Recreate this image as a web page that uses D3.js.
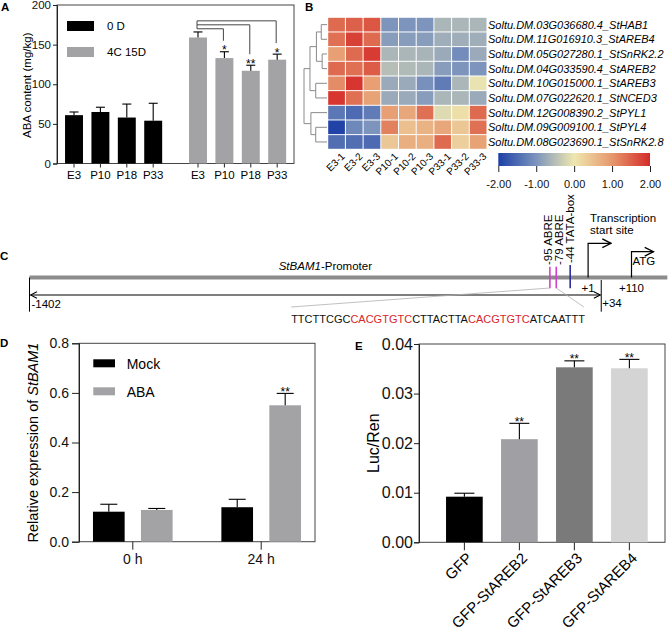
<!DOCTYPE html>
<html><head><meta charset="utf-8">
<script src="https://cdn.jsdelivr.net/npm/d3@7"></script>
<style>
body{margin:0;background:#fff}
svg{font-family:"Liberation Sans",Arial,Helvetica,sans-serif;display:block}
</style>
</head><body>
<svg id="c" width="668" height="634"></svg>
<script>
// ================= DATA =================
// Panel A
const abaGroups = ["0 D", "4C 15D"];
const abaCats = ["E3", "P10", "P18", "P33"];
const aba0D = [61, 65, 58, 54];
const aba0DErr = [4, 6, 17, 22];
const aba4C = [159, 133, 117, 131];
const aba4CErr = [7, 8, 7, 7];
const aba4CSig = ["", "*", "**", "*"];
const abaBracketLevels = [null, 170, 175, 180];
const abaYTicks = [0, 50, 100, 150, 200];
const abaColors = ["#000000", "#a3a3a6"];

// Panel B
const heatGenes = [
  "Soltu.DM.03G036680.4_StHAB1",
  "Soltu.DM.11G016910.3_StAREB4",
  "Soltu.DM.05G027280.1_StSnRK2.2",
  "Soltu.DM.04G033590.4_StAREB2",
  "Soltu.DM.10G015000.1_StAREB3",
  "Soltu.DM.07G022620.1_StNCED3",
  "Soltu.DM.12G008390.2_StPYL1",
  "Soltu.DM.09G009100.1_StPYL4",
  "Soltu.DM.08G023690.1_StSnRK2.8"
];
const heatSamples = ["E3-1","E3-2","E3-3","P10-1","P10-2","P10-3","P33-1","P33-2","P33-3"];
const heatValues = [
  [1.42, 1.50, 1.60, -1.00, -1.00, -1.00, -0.60, -0.60, -0.60],
  [1.36, 1.80, 1.42, -0.90, -0.90, -0.90, -0.70, -0.70, -0.70],
  [0.90, 1.42, 1.85, -0.60, -0.60, -0.62, -0.75, -1.10, -0.75],
  [1.42, 1.36, 1.55, -0.50, -0.55, -0.60, -0.90, -1.00, -1.00],
  [1.10, 1.90, 0.90, -0.75, -0.75, -1.05, -1.30, -0.60, -0.05],
  [1.90, 1.36, 0.85, -0.75, -0.75, -0.90, -0.60, -0.60, -0.75],
  [-1.35, -1.50, -1.30, 0.90, 0.80, 1.36, -0.15, 0.10, 1.42],
  [-1.95, -1.15, -1.00, 1.20, 0.50, 0.65, 0.80, 0.40, 1.36],
  [-1.45, -1.45, -1.50, 0.40, 0.70, 0.70, 1.42, 0.30, 0.85]
];
const heatLegendTicks = [-2, -1, 0, 1, 2];
const heatColorStops = ["#1c3fa6", "#7d95bd", "#efe7b0", "#e6976c", "#d42b28"];
// dendrogram merges (scipy style: leaves 0..8, merge i -> node 9+i), [a, b, height]
const dendroMerges = [
  [0, 1, 0.25], [2, 3, 0.21], [9, 10, 0.46], [4, 5, 0.49],
  [11, 12, 0.74], [7, 8, 0.49], [6, 14, 0.70], [13, 15, 1.0]
];

// Panel C
const promoterStart = -1402, promoterEnd = 200;
const cisElements = [
  {pos: -95, label: "-95 ABRE", color: "#d23fd2"},
  {pos: -79, label: "-79 ABRE", color: "#d23fd2"},
  {pos: -44, label: "-44 TATA-box", color: "#2b2fa0"}
];
const tssPos = 1, fragEnd = 34, atgPos = 110;
const seqParts = [
  {t: "TTCTTCGC", red: false}, {t: "CACGTGTC", red: true},
  {t: "CTTACTTA", red: false}, {t: "CACGTGTC", red: true},
  {t: "ATCAATTT", red: false}
];

// Panel D
const exprTimes = ["0 h", "24 h"];
const exprTreat = ["Mock", "ABA"];
const exprMock = [0.121, 0.139];
const exprMockErr = [0.030, 0.032];
const exprABA = [0.128, 0.550];
const exprABAErr = [0.006, 0.048];
const exprSig = [["", ""], ["", "**"]];
const exprYTicks = [0, 0.2, 0.4, 0.6, 0.8];
const exprColors = ["#000000", "#a3a3a6"];

// Panel E
const lucCats = ["GFP", "GFP-StAREB2", "GFP-StAREB3", "GFP-StAREB4"];
const lucVals = [0.0092, 0.0208, 0.0353, 0.0351];
const lucErr = [0.0007, 0.0032, 0.0013, 0.0018];
const lucSig = ["", "**", "**", "**"];
const lucColors = ["#000000", "#a0a0a4", "#7a7a7a", "#d4d4d4"];
const lucYTicks = [0, 0.01, 0.02, 0.03, 0.04];

// ================= DRAW =================
const svg = d3.select("#c");
const AX = "#222";
const FF = '"Liberation Sans", Arial, Helvetica, sans-serif';

function styleAxis(g, fs) {
  g.attr("font-family", FF).attr("font-size", fs);
  g.selectAll("path,line").attr("stroke", AX);
  g.selectAll("text").attr("fill", "#111");
}
function panelLetter(t, x, y) {
  svg.append("text").attr("x", x).attr("y", y).attr("font-weight", "bold")
    .attr("font-size", 11.5).text(t);
}
function errBar(g, cx, y0, y1, half) {
  g.append("line").attr("x1", cx).attr("x2", cx).attr("y1", y0).attr("y2", y1).attr("stroke", "#000").attr("stroke-width", 1.1);
  g.append("line").attr("x1", cx - half).attr("x2", cx + half).attr("y1", y1).attr("y2", y1).attr("stroke", "#000").attr("stroke-width", 1.1);
}

// ---------- Panel A ----------
(function () {
  const g = svg.append("g");
  const L = 57, R = 294;
  const y = d3.scaleLinear().domain([0, 200]).range([163.5, 5]);
  const x0 = d3.scaleBand().domain(abaGroups).range([62.4, 288.8]).paddingInner(0.174);
  const x1 = d3.scaleBand().domain(abaCats).range([0, x0.bandwidth()]).paddingInner(0.32).paddingOuter(0.1);
  g.append("rect").attr("x", L).attr("y", y(200)).attr("width", R - L).attr("height", y(0) - y(200))
    .attr("fill", "none").attr("stroke", "#444").attr("stroke-width", 1);
  const ya = g.append("g").attr("transform", `translate(${L},0)`)
    .call(d3.axisLeft(y).tickValues(abaYTicks).tickSize(4).tickPadding(2));
  styleAxis(ya, 11.5);
  const series = [[aba0D, aba0DErr], [aba4C, aba4CErr]];
  abaGroups.forEach((grp, gi) => {
    abaCats.forEach((c, ci) => {
      const v = series[gi][0][ci], e = series[gi][1][ci];
      const bx = x0(grp) + x1(c), cx = bx + x1.bandwidth() / 2;
      g.append("rect").attr("x", bx).attr("y", y(v)).attr("width", x1.bandwidth())
        .attr("height", y(0) - y(v)).attr("fill", abaColors[gi]);
      errBar(g, cx, y(v), y(v + e), 4.5);
      g.append("line").attr("x1", cx).attr("x2", cx).attr("y1", y(0)).attr("y2", y(0) + 4).attr("stroke", AX);
      g.append("text").attr("x", cx).attr("y", y(0) + 15.5).attr("text-anchor", "middle")
        .attr("font-size", 11.5).text(c);
    });
  });
  // significance brackets (4C 15D vs E3)
  const refX = x0(abaGroups[1]) + x1(abaCats[0]) + x1.bandwidth() / 2 - 1;
  const levels = abaBracketLevels.filter(d => d != null);
  g.append("line").attr("x1", refX).attr("x2", refX)
    .attr("y1", y(d3.max(levels))).attr("y2", y(d3.min(levels))).attr("stroke", "#444");
  abaCats.forEach((c, ci) => {
    const cx = x0(abaGroups[1]) + x1(c) + x1.bandwidth() / 2;
    const top = y(aba4C[ci] + aba4CErr[ci]);
    if (aba4CSig[ci]) {
      g.append("text").attr("x", cx).attr("y", top + 2.5).attr("text-anchor", "middle")
        .attr("font-size", 12).text(aba4CSig[ci]);
    }
    if (abaBracketLevels[ci] != null) {
      const ly = y(abaBracketLevels[ci]);
      g.append("path").attr("d", `M${refX},${ly}H${cx - 1}V${top - 11}`)
        .attr("fill", "none").attr("stroke", "#444");
    }
  });
  // legend
  abaGroups.forEach((grp, i) => {
    g.append("rect").attr("x", 67).attr("y", 21 + i * 26).attr("width", 27).attr("height", 10).attr("fill", abaColors[i]);
    g.append("text").attr("x", 107).attr("y", 26 + i * 26).attr("dominant-baseline", "central")
      .attr("font-size", 11.5).text(grp);
  });
  g.append("text").attr("transform", `translate(27,${(y(0) + y(200)) / 2 + 1}) rotate(-90)`)
    .attr("text-anchor", "middle").attr("dominant-baseline", "central").attr("font-size", 11.5)
    .text("ABA content (mg/kg)");
  panelLetter("A", 1, 11);
})();

// ---------- Panel B ----------
(function () {
  const g = svg.append("g");
  const x = d3.scaleBand().domain(heatSamples).range([327.7, 487]);
  const y = d3.scaleBand().domain(heatGenes).range([17.3, 149.3]);
  const color = d3.scaleLinear().domain(heatLegendTicks).range(heatColorStops).clamp(true);
  heatValues.forEach((row, ri) => {
    row.forEach((v, ci) => {
      g.append("rect").attr("x", x(heatSamples[ci]) + 0.5).attr("y", y(heatGenes[ri]) + 0.5)
        .attr("width", x.bandwidth() - 1).attr("height", y.bandwidth() - 1).attr("fill", color(v));
    });
  });
  heatGenes.forEach(gn => {
    g.append("text").attr("x", 488).attr("y", y(gn) + y.bandwidth() / 2)
      .attr("dominant-baseline", "central").attr("font-size", 11).attr("font-style", "italic").text(gn);
  });
  heatSamples.forEach(s => {
    const cx = x(s) + x.bandwidth() / 2;
    g.append("text").attr("transform", `translate(${cx + 4},152) rotate(-45)`)
      .attr("text-anchor", "end").attr("dy", "0.7em").attr("font-size", 10).text(s);
  });
  // dendrogram
  const hx = d3.scaleLinear().domain([0, 1]).range([327, 304]);
  const nodes = heatGenes.map((gn, i) => ({y: y(gn) + y.bandwidth() / 2, x: hx(0)}));
  dendroMerges.forEach(([a, b, h]) => {
    const A = nodes[a], B = nodes[b], xx = hx(h);
    g.append("path").attr("d", `M${A.x},${A.y}H${xx}V${B.y}H${B.x}`)
      .attr("fill", "none").attr("stroke", "#8a8a8a").attr("stroke-width", 1);
    nodes.push({x: xx, y: (A.y + B.y) / 2});
  });
  // color legend
  const lx = d3.scaleLinear().domain([-2, 2]).range([498.3, 650]);
  const grad = svg.append("defs").append("linearGradient").attr("id", "hgrad");
  heatLegendTicks.forEach((t, i) => {
    grad.append("stop").attr("offset", (i / (heatLegendTicks.length - 1) * 100) + "%").attr("stop-color", heatColorStops[i]);
  });
  g.append("rect").attr("x", lx(-2)).attr("y", 153).attr("width", lx(2) - lx(-2)).attr("height", 13).attr("fill", "url(#hgrad)");
  const la = g.append("g").attr("transform", "translate(0,166)")
    .call(d3.axisBottom(lx).tickValues(heatLegendTicks).tickSize(6).tickPadding(8).tickFormat(d3.format(".2f")));
  la.select(".domain").remove();
  styleAxis(la, 11);
  la.selectAll("text").text(d => d3.format(".2f")(d).replace("−", "-"));
  panelLetter("B", 305, 11);
})();

// ---------- Panel C ----------
(function () {
  const g = svg.append("g");
  const x = d3.scaleLinear().domain([promoterStart, atgPos]).range([29.5, 631.5]);
  const defs = svg.append("defs");
  defs.append("marker").attr("id", "chev").attr("viewBox", "0 0 10 10").attr("refX", 9).attr("refY", 5)
    .attr("markerWidth", 8).attr("markerHeight", 8).attr("markerUnits", "userSpaceOnUse").attr("orient", "auto-start-reverse")
    .append("path").attr("d", "M1,1L9,5L1,9").attr("fill", "none").attr("stroke", "#000").attr("stroke-width", 1.3);
  defs.append("marker").attr("id", "chevBig").attr("viewBox", "0 0 10 10").attr("refX", 9).attr("refY", 5)
    .attr("markerWidth", 11).attr("markerHeight", 11).attr("markerUnits", "userSpaceOnUse").attr("orient", "auto")
    .append("path").attr("d", "M1,1L9,5L1,9").attr("fill", "none").attr("stroke", "#000").attr("stroke-width", 1.2);
  const barY = 277.5;
  g.append("line").attr("x1", x(promoterStart)).attr("x2", x(promoterEnd)).attr("y1", barY).attr("y2", barY)
    .attr("stroke", "#8c8c8c").attr("stroke-width", 4);
  const lab = g.append("text").attr("x", 372).attr("y", 270).attr("text-anchor", "end").attr("font-size", 11.5);
  lab.append("tspan").attr("font-style", "italic").text("StBAM1");
  lab.append("tspan").text("-Promoter");
  // left boundary and arrow
  g.append("line").attr("x1", x(promoterStart)).attr("x2", x(promoterStart)).attr("y1", barY).attr("y2", 311.7).attr("stroke", "#000");
  g.append("line").attr("x1", x(fragEnd)).attr("x2", x(fragEnd)).attr("y1", 280).attr("y2", 311.7).attr("stroke", "#000");
  g.append("line").attr("x1", x(promoterStart) + 1).attr("x2", x(fragEnd) - 1).attr("y1", 295).attr("y2", 295)
    .attr("stroke", "#000").attr("stroke-width", 1.1)
    .attr("marker-start", "url(#chev)").attr("marker-end", "url(#chev)");
  g.append("text").attr("x", x(promoterStart) + 2).attr("y", 307.7).attr("font-size", 11.5).text(String(promoterStart));
  g.append("text").attr("x", x(fragEnd) + 1).attr("y", 307).attr("font-size", 11.5).text("+" + fragEnd);
  g.append("text").attr("x", x(tssPos)).attr("y", 291.7).attr("text-anchor", "middle").attr("font-size", 11.5).text("+" + tssPos);
  g.append("text").attr("x", x(atgPos)).attr("y", 291.7).attr("text-anchor", "middle").attr("font-size", 11.5).text("+" + atgPos);
  // cis elements (labels spread apart so they do not overlap)
  const lx = cisElements.map(d => x(d.pos));
  const minGap = 11;
  for (let it = 0; it < 30; it++) {
    for (let i = 1; i < lx.length; i++) {
      const gap = lx[i] - lx[i - 1];
      if (gap < minGap) { const s = (minGap - gap) / 2; lx[i - 1] -= s; lx[i] += s; }
    }
  }
  cisElements.forEach((d, i) => {
    const big = d.label.indexOf("TATA") >= 0;
    g.append("line").attr("x1", x(d.pos)).attr("x2", x(d.pos)).attr("y1", big ? 265 : 266.7).attr("y2", 288.3)
      .attr("stroke", d.color).attr("stroke-width", 1.6);
    g.append("text").attr("transform", `translate(${lx[i]},${big ? 263 : 265}) rotate(-90)`)
      .attr("dominant-baseline", "central").attr("font-size", 11.5).text(d.label);
  });
  // TSS arrow
  g.append("path").attr("d", `M${x(tssPos)},${barY}V243.3H${x(tssPos) + 23}`).attr("fill", "none")
    .attr("stroke", "#000").attr("stroke-width", 1.2).attr("marker-end", "url(#chevBig)");
  g.append("text").attr("x", x(tssPos) + 2).attr("y", 221.7).attr("font-size", 11.5).text("Transcription");
  g.append("text").attr("x", x(tssPos) + 2).attr("y", 234).attr("font-size", 11.5).text("start site");
  // ATG arrow
  g.append("path").attr("d", `M${x(atgPos)},${barY}V251.7H${x(atgPos) + 22}`).attr("fill", "none")
    .attr("stroke", "#000").attr("stroke-width", 1.2).attr("marker-end", "url(#chevBig)");
  g.append("text").attr("x", x(atgPos) + 1).attr("y", 265).attr("font-size", 11.5).text("ATG");
  // sequence
  const seqCx = 438;
  const seq = g.append("text").attr("x", seqCx).attr("y", 323.3).attr("text-anchor", "middle").attr("font-size", 11);
  seqParts.forEach(p => seq.append("tspan").attr("fill", p.red ? "#d8262a" : "#111").text(p.t));
  const sw = seq.node().getComputedTextLength();
  g.append("line").attr("x1", x(cisElements[0].pos)).attr("y1", 288).attr("x2", seqCx - sw / 2).attr("y2", 307)
    .attr("stroke", "#b0b0b0").attr("stroke-width", 0.8);
  g.append("line").attr("x1", x(cisElements[1].pos)).attr("y1", 288).attr("x2", seqCx + sw / 2 - 1).attr("y2", 307)
    .attr("stroke", "#b0b0b0").attr("stroke-width", 0.8);
  panelLetter("C", 0, 260);
})();

// ---------- Panel D ----------
(function () {
  const g = svg.append("g");
  const L = 79, R = 315;
  const y = d3.scaleLinear().domain([0, 0.8]).range([541.7, 343.3]);
  const x0 = d3.scaleBand().domain(exprTimes).range([L, R]).paddingInner(0.305).paddingOuter(0.0715);
  const x1 = d3.scaleBand().domain(exprTreat).range([0, x0.bandwidth()]).paddingInner(0.34).paddingOuter(0.1);
  g.append("rect").attr("x", L).attr("y", y(0.8)).attr("width", R - L).attr("height", y(0) - y(0.8))
    .attr("fill", "none").attr("stroke", "#444");
  const ya = g.append("g").attr("transform", `translate(${L},0)`)
    .call(d3.axisLeft(y).tickValues(exprYTicks).tickSize(7).tickPadding(3).tickFormat(d3.format(".1f")));
  styleAxis(ya, 14);
  const xa = g.append("g").attr("transform", `translate(0,${y(0)})`)
    .call(d3.axisBottom(x0).tickSize(8).tickPadding(4));
  xa.select(".domain").remove();
  styleAxis(xa, 14);
  const vals = [exprMock, exprABA], errs = [exprMockErr, exprABAErr];
  exprTimes.forEach((t, ti) => {
    exprTreat.forEach((tr, k) => {
      const v = vals[k][ti], e = errs[k][ti];
      const bx = x0(t) + x1(tr), cx = bx + x1.bandwidth() / 2;
      g.append("rect").attr("x", bx).attr("y", y(v)).attr("width", x1.bandwidth()).attr("height", y(0) - y(v)).attr("fill", exprColors[k]);
      errBar(g, cx, y(v), y(v + e), 8.5);
      const s = exprSig[ti][k];
      if (s) g.append("text").attr("x", cx).attr("y", y(v + e) + 2.5).attr("text-anchor", "middle").attr("font-size", 12).text(s);
    });
  });
  exprTreat.forEach((tr, i) => {
    g.append("rect").attr("x", 93.3).attr("y", 359.3 + i * 28).attr("width", 21.7).attr("height", 8).attr("fill", exprColors[i]);
    g.append("text").attr("x", 126.7).attr("y", 363.5 + i * 28).attr("dominant-baseline", "central").attr("font-size", 14).text(tr);
  });
  const t = g.append("text").attr("transform", `translate(33,${(y(0) + y(0.8)) / 2}) rotate(-90)`)
    .attr("text-anchor", "middle").attr("dominant-baseline", "central").attr("font-size", 14.5);
  t.append("tspan").text("Relative expression of ");
  t.append("tspan").attr("font-style", "italic").text("StBAM1");
  panelLetter("D", 0, 347);
})();

// ---------- Panel E ----------
(function () {
  const g = svg.append("g");
  const L = 419, R = 665;
  const y = d3.scaleLinear().domain([0, 0.04]).range([542.3, 344]);
  const x = d3.scaleBand().domain(lucCats).range([L, R]).paddingInner(0.333).paddingOuter(0.403).align(0.61);
  g.append("rect").attr("x", L).attr("y", y(0.04)).attr("width", R - L).attr("height", y(0) - y(0.04))
    .attr("fill", "none").attr("stroke", "#444");
  const ya = g.append("g").attr("transform", `translate(${L},0)`)
    .call(d3.axisLeft(y).tickValues(lucYTicks).tickSize(5).tickPadding(1).tickFormat(d3.format(".2f")));
  styleAxis(ya, 16);
  const xa = g.append("g").attr("transform", `translate(0,${y(0)})`)
    .call(d3.axisBottom(x).tickSize(8).tickFormat(""));
  xa.select(".domain").remove();
  styleAxis(xa, 15);
  lucCats.forEach((c, i) => {
    const bx = x(c), cx = bx + x.bandwidth() / 2, v = lucVals[i], e = lucErr[i];
    g.append("rect").attr("x", bx).attr("y", y(v)).attr("width", x.bandwidth()).attr("height", y(0) - y(v)).attr("fill", lucColors[i]);
    errBar(g, cx, y(v), y(v + e), 10);
    if (lucSig[i]) g.append("text").attr("x", cx).attr("y", y(v + e) + 2.5).attr("text-anchor", "middle").attr("font-size", 12).text(lucSig[i]);
    g.append("text").attr("transform", `translate(${cx + 5},${y(0) + 13}) rotate(-45)`)
      .attr("text-anchor", "end").attr("dy", "0.35em").attr("font-size", 15).text(c);
  });
  g.append("text").attr("transform", `translate(373.3,${(y(0) + y(0.04)) / 2}) rotate(-90)`)
    .attr("text-anchor", "middle").attr("dominant-baseline", "central").attr("font-size", 16).text("Luc/Ren");
  panelLetter("E", 355, 350);
})();
</script>
</body></html>
